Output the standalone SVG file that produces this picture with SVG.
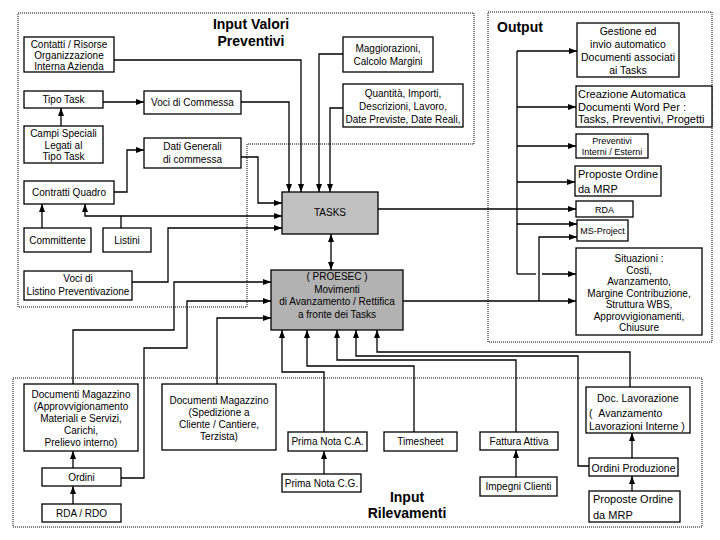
<svg xmlns="http://www.w3.org/2000/svg" width="720" height="540" viewBox="0 0 720 540">
<defs>
<marker id="ar" markerUnits="userSpaceOnUse" markerWidth="8" markerHeight="8" viewBox="0 0 8 8" refX="8" refY="4" orient="auto-start-reverse">
<path d="M0,1 L8,4 L0,7 z" fill="#000"/>
</marker>
<style>
.n{fill:#fff;stroke:#000;stroke-width:1.3}
.g1{fill:#c0c0c0;stroke:#000;stroke-width:1.3}
.g2{fill:#b2b2b2;stroke:#000;stroke-width:1.3}
text{font-family:"Liberation Sans",Arial,sans-serif;font-size:10px;fill:#000}
.c{text-anchor:middle}
.l11{font-size:11px}
.l105{font-size:10.5px}
.s9{font-size:9px}
.t{font-size:14px;font-weight:bold}
.reg{fill:none;stroke:#000;stroke-width:1;stroke-dasharray:1,1}
.w{fill:none;stroke:#000;stroke-width:1.3}
.a{marker-end:url(#ar)}
</style>
</defs>
<rect width="720" height="540" fill="#fff"/>
<g id="regions">
<path class="reg" d="M18,13 H474 V144 H247 V307 H18 Z"/>
<path class="reg" d="M488,12 H712 V342 H488 Z"/>
<path class="reg" d="M13,378 H702 V527 H13 Z"/>
</g>
<g id="titles">
<text class="t c" x="251" y="29">Input Valori</text>
<text class="t c" x="251" y="46">Preventivi</text>
<text class="t" x="497" y="32">Output</text>
<text class="t c" x="407" y="502">Input</text>
<text class="t c" x="407" y="518">Rilevamenti</text>
</g>
<g id="connectors">
<path class="w a" d="M103,102 H144"/>
<path class="w a" d="M61,126 V108"/>
<path class="w a" d="M114,192 H127 V150 H144"/>
<path class="w a" d="M42,228 V204"/>
<path class="w a" d="M121,228 V216 H85 V204"/>
<path class="w a" d="M121,216 H282"/>
<path class="w a" d="M132,282 H168 V228 H282"/>
<path class="w a" d="M241,157 H258 V203 H282"/>
<path class="w a" d="M241,102 H289 V192"/>
<path class="w a" d="M114,60 H301 V192"/>
<path class="w a" d="M343,54 H319 V192"/>
<path class="w a" d="M343,108 H330 V192"/>
<path class="w a" d="M331,234 V270" marker-start="url(#ar)"/>
<path class="w a" d="M378,209 H576"/>
<path class="w" d="M517,51 V274"/>
<path class="w a" d="M517,51 H577"/>
<path class="w a" d="M517,107 H576"/>
<path class="w a" d="M517,146 H576"/>
<path class="w a" d="M517,182 H575"/>
<path class="w a" d="M517,224 H577"/>
<path class="w" d="M517,274 H536"/>
<path class="w a" d="M542,274 H576"/>
<path class="w a" d="M403,301 H576"/>
<path class="w a" d="M539,301 V237 H577"/>
<path class="w a" d="M73,384 V330 H174 V282 H271"/>
<path class="w a" d="M121,478 H144 V348 H187 V301 H271"/>
<path class="w a" d="M217,384 V318 H271"/>
<path class="w a" d="M324,432 V372 H282 V330"/>
<path class="w a" d="M414,432 V366 H307 V330"/>
<path class="w a" d="M516,432 V360 H337 V330"/>
<path class="w a" d="M589,466 H578 V356 H356 V330"/>
<path class="w a" d="M630,387 V352 H377 V330"/>
<path class="w a" d="M73,468 V451"/>
<path class="w a" d="M73,504 V486"/>
<path class="w a" d="M324,474 V451"/>
<path class="w a" d="M516,477 V450"/>
<path class="w a" d="M632,458 V433"/>
<path class="w a" d="M632,491 V476"/>
</g>
<g id="contatti"><rect class="n" x="24" y="37" width="90" height="35"/>
<text class="c" x="69" y="48">Contatti / Risorse</text><text class="c" x="69" y="59">Organizzazione</text><text class="c" x="69" y="70">Interna Azienda</text></g>
<g id="tipotask"><rect class="n" x="24" y="91" width="79" height="17"/><text class="c" x="63.5" y="103">Tipo Task</text></g>
<g id="campi"><rect class="n" x="24" y="126" width="79" height="37"/>
<text class="c" x="63.5" y="137">Campi Speciali</text><text class="c" x="63.5" y="149">Legati al</text><text class="c" x="63.5" y="160">Tipo Task</text></g>
<g id="contratti"><rect class="n" x="24" y="181" width="90" height="23"/><text class="c" x="69" y="196">Contratti Quadro</text></g>
<g id="committente"><rect class="n" x="24" y="228" width="67" height="24"/><text class="c" x="57.5" y="244">Committente</text></g>
<g id="listini"><rect class="n" x="103" y="228" width="48" height="24"/><text class="c" x="127" y="244">Listini</text></g>
<g id="vocilistino"><rect class="n" x="24" y="271" width="108" height="29"/>
<text class="c" x="78" y="282">Voci di</text><text class="c" x="78" y="295">Listino Preventivazione</text></g>
<g id="vocicommessa"><rect class="n" x="144" y="91" width="97" height="23"/><text class="c" x="192.5" y="106">Voci di Commessa</text></g>
<g id="datigenerali"><rect class="n" x="144" y="138" width="97" height="30"/>
<text class="c" x="192.5" y="150">Dati Generali</text><text class="c" x="192.5" y="163">di commessa</text></g>
<g id="maggiorazioni"><rect class="n" x="343" y="37" width="90" height="35"/>
<text class="c" x="388" y="52">Maggiorazioni,</text><text class="c" x="388" y="65">Calcolo Margini</text></g>
<g id="quantita"><rect class="n" x="343" y="84" width="120" height="43"/>
<text class="c" x="403" y="97">Quantità, Importi,</text><text class="c" x="403" y="110">Descrizioni, Lavoro,</text><text class="c" x="403" y="123">Date Previste, Date Reali,</text></g>
<g id="tasks"><rect class="g1" x="282" y="192" width="96" height="42"/><text class="c" x="330" y="216">TASKS</text></g>
<g id="proesec"><rect class="g2" x="271" y="270" width="132" height="60"/>
<text class="c" x="337" y="280">( PROESEC )</text><text class="c" x="337" y="292.5">Movimenti</text><text class="c" x="337" y="305">di Avanzamento / Rettifica</text><text class="c" x="337" y="317.5">a fronte dei Tasks</text></g>
<g id="gestione"><rect class="n" x="577" y="23" width="102" height="54"/>
<text class="c l105" x="628" y="35">Gestione ed</text><text class="c l105" x="628" y="48">invio automatico</text><text class="c l105" x="628" y="61">Documenti associati</text><text class="c l105" x="628" y="74">ai Tasks</text></g>
<g id="creazione"><rect class="n" x="576" y="86" width="136" height="41"/>
<text class="l11" x="578" y="98">Creazione Automatica</text><text class="l11" x="578" y="111">Documenti Word Per :</text><text class="l11" x="578" y="123">Tasks, Preventivi, Progetti</text></g>
<g id="preventivi"><rect class="n" x="576" y="134" width="72" height="24"/>
<text class="c s9" x="612" y="144">Preventivi</text><text class="c s9" x="612" y="155">Interni / Esterni</text></g>
<g id="proposteout"><rect class="n" x="575" y="166" width="86" height="30"/>
<text class="l11" x="578" y="178">Proposte Ordine</text><text class="l11" x="578" y="193">da MRP</text></g>
<g id="rda"><rect class="n" x="576" y="201" width="57" height="16"/><text class="c s9" x="604.5" y="213">RDA</text></g>
<g id="msproject"><rect class="n" x="577" y="220" width="51" height="21"/><text class="c s9" x="602.5" y="234">MS-Project</text></g>
<g id="situazioni"><rect class="n" x="576" y="248" width="126" height="87"/>
<text class="c" x="639" y="262">Situazioni :</text><text class="c" x="639" y="273.5">Costi,</text><text class="c" x="639" y="285">Avanzamento,</text><text class="c" x="639" y="296.5">Margine Contribuzione,</text><text class="c" x="639" y="308">Struttura WBS,</text><text class="c" x="639" y="319.5">Approvvigionamenti,</text><text class="c" x="639" y="331">Chiusure</text></g>
<g id="docmag1"><rect class="n" x="24" y="384" width="114" height="67"/>
<text class="c" x="81" y="398">Documenti Magazzino</text><text class="c" x="81" y="410">(Approvvigionamento</text><text class="c" x="81" y="422">Materiali e Servizi,</text><text class="c" x="81" y="434">Carichi,</text><text class="c" x="81" y="446">Prelievo interno)</text></g>
<g id="ordini"><rect class="n" x="42" y="468" width="79" height="18"/><text class="c" x="81.5" y="481">Ordini</text></g>
<g id="rdardo"><rect class="n" x="42" y="504" width="79" height="18"/><text class="c" x="81.5" y="517">RDA / RDO</text></g>
<g id="docmag2"><rect class="n" x="162" y="384" width="114" height="66"/>
<text class="c" x="219" y="404">Documenti Magazzino</text><text class="c" x="219" y="416">(Spedizione a</text><text class="c" x="219" y="428">Cliente / Cantiere,</text><text class="c" x="219" y="440">Terzista)</text></g>
<g id="primaca"><rect class="n" x="288" y="432" width="79" height="19"/><text class="c" x="327.5" y="445">Prima Nota C.A.</text></g>
<g id="timesheet"><rect class="n" x="384" y="432" width="73" height="19"/><text class="c" x="420.5" y="445">Timesheet</text></g>
<g id="primacg"><rect class="n" x="282" y="474" width="79" height="18"/><text class="c" x="321.5" y="487">Prima Nota C.G.</text></g>
<g id="fattura"><rect class="n" x="480" y="432" width="78" height="18"/><text class="c" x="519" y="445">Fattura Attiva</text></g>
<g id="impegni"><rect class="n" x="480" y="477" width="77" height="19"/><text class="c" x="518.5" y="490">Impegni Clienti</text></g>
<g id="doclav"><rect class="n" x="586" y="387" width="104" height="46"/>
<text class="l105" x="597" y="402">Doc. Lavorazione</text><text class="l105" x="589" y="417">(&#160;&#160;Avanzamento</text><text class="l105" x="589" y="430">Lavorazioni Interne )</text></g>
<g id="ordprod"><rect class="n" x="589" y="458" width="89" height="18"/><text class="c l105" x="633.5" y="471.5">Ordini Produzione</text></g>
<g id="propostein"><rect class="n" x="589" y="491" width="91" height="31"/>
<text class="l11" x="593" y="503">Proposte Ordine</text><text class="l11" x="593" y="519">da MRP</text></g>
</svg>
